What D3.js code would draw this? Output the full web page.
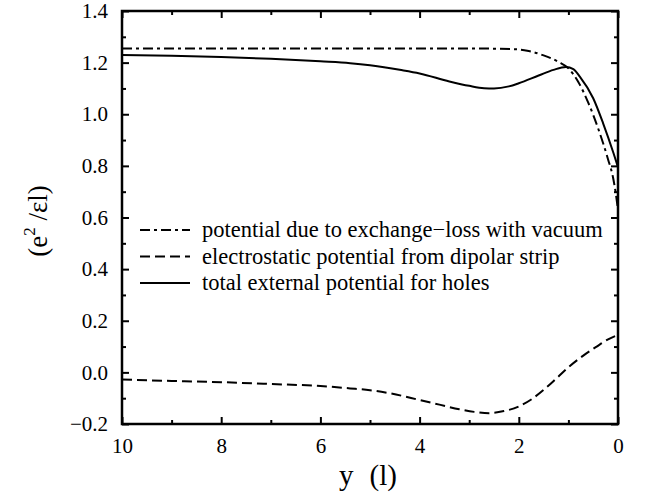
<!DOCTYPE html>
<html>
<head>
<meta charset="utf-8">
<script src="https://cdn.jsdelivr.net/npm/d3@7"></script>
<style>
  body { margin: 0; background: #fff; }
</style>
</head>
<body>
<script>
// distance from edge (l)
var xExch = [10, 8, 6, 4, 3, 2.5, 2, 1.8, 1.5, 1.2, 1.0, 0.8, 0.6, 0.4, 0.2, 0.1, 0.05, 0];
var exchange = [1.255, 1.255, 1.255, 1.255, 1.255, 1.254, 1.251, 1.245, 1.228, 1.203, 1.178, 1.125, 1.045, 0.945, 0.825, 0.755, 0.70, 0.63];

var xDip = [10, 9, 8, 7, 6, 5.4, 5, 4.6, 4, 3.6, 3.2, 2.9, 2.6, 2.3, 2.0, 1.75, 1.5, 1.25, 1.0, 0.7, 0.43, 0.2, 0];
var dipolar = [-0.028, -0.033, -0.038, -0.045, -0.053, -0.062, -0.069, -0.081, -0.107, -0.125, -0.143, -0.153, -0.158, -0.150, -0.132, -0.105, -0.068, -0.025, 0.020, 0.065, 0.100, 0.128, 0.145];

var xTot = [10, 9, 8, 7, 6, 5.4, 5, 4.4, 4, 3.4, 3, 2.7, 2.5, 2.2, 2.0, 1.6, 1.3, 1.05, 0.9, 0.77, 0.5, 0.3, 0.09, 0];
var total = [1.230, 1.227, 1.222, 1.215, 1.205, 1.198, 1.190, 1.172, 1.158, 1.127, 1.110, 1.101, 1.100, 1.108, 1.120, 1.150, 1.172, 1.183, 1.175, 1.146, 1.062, 0.965, 0.849, 0.795];

var legendLabels = ["potential due to exchange\u2212loss with vacuum",
                    "electrostatic potential from dipolar strip",
                    "total external potential for holes"];

var FONT = "'Liberation Serif'";

var W = 647, H = 493;
var margin = { left: 122, right: 29, top: 11, bottom: 69 };
var width = W - margin.left - margin.right;
var height = H - margin.top - margin.bottom;

var x = d3.scaleLinear().domain([10, 0]).range([0, width]);
var y = d3.scaleLinear().domain([-0.2, 1.4]).range([height, 0]);

var svg = d3.select("body").append("svg").attr("width", W).attr("height", H);
var g = svg.append("g").attr("transform", "translate(" + margin.left + "," + margin.top + ")");

// ticks (inward on all four sides)
var xMajor = d3.range(10, -1, -2), xMinor = d3.range(9, 0, -2);
var yMajor = d3.range(0, 9).map(function (i) { return -0.2 + i * 0.2; });
var yMinor = d3.range(0, 8).map(function (i) { return -0.1 + i * 0.2; });

function fmtY(v) { var s = d3.format(".1f")(Math.abs(v) < 1e-9 ? 0 : v); return s.replace("-", "\u2212"); }

g.append("g").attr("transform", "translate(0," + height + ")")
  .call(d3.axisBottom(x).tickValues(xMajor).tickSize(-7).tickPadding(14).tickFormat(d3.format("d")));
g.append("g").attr("transform", "translate(0," + height + ")")
  .call(d3.axisBottom(x).tickValues(xMinor).tickSize(-4).tickFormat(""));
g.append("g").call(d3.axisTop(x).tickValues(xMajor).tickSize(-7).tickFormat(""));
g.append("g").call(d3.axisTop(x).tickValues(xMinor).tickSize(-4).tickFormat(""));

g.append("g").call(d3.axisLeft(y).tickValues(yMajor).tickSize(-7).tickPadding(14).tickFormat(fmtY));
g.append("g").call(d3.axisLeft(y).tickValues(yMinor).tickSize(-4).tickFormat(""));
g.append("g").attr("transform", "translate(" + width + ",0)")
  .call(d3.axisRight(y).tickValues(yMajor).tickSize(-7).tickFormat(""));
g.append("g").attr("transform", "translate(" + width + ",0)")
  .call(d3.axisRight(y).tickValues(yMinor).tickSize(-4).tickFormat(""));

g.selectAll(".domain").remove();
g.selectAll("g").attr("font-family", FONT).attr("font-size", 21);
g.selectAll(".tick line").attr("stroke", "#000").attr("stroke-width", 2);
g.selectAll(".tick text").style("font-family", FONT).style("font-size", "21px").attr("fill", "#000");

g.append("rect").attr("width", width).attr("height", height)
  .attr("fill", "none").attr("stroke", "#000").attr("stroke-width", 2.5);

// curves
var styles = [
  { xs: xExch, ys: exchange, dash: "10,4,3,4" },
  { xs: xDip, ys: dipolar, dash: "10,5" },
  { xs: xTot, ys: total, dash: null }
];

var line = d3.line().x(function (d) { return x(d[0]); }).y(function (d) { return y(d[1]); })
  .curve(d3.curveMonotoneX);

styles.forEach(function (s) {
  var pts = s.xs.map(function (v, i) { return [v, s.ys[i]]; });
  g.append("path").attr("d", line(pts)).attr("fill", "none")
    .attr("stroke", "#000").attr("stroke-width", 2)
    .attr("stroke-dasharray", s.dash);
});

// legend
var leg = g.append("g").attr("transform", "translate(18,219)");
legendLabels.forEach(function (t, i) {
  leg.append("line").attr("x1", 0).attr("x2", 50).attr("y1", i * 26.5).attr("y2", i * 26.5)
    .attr("stroke", "#000").attr("stroke-width", 2).attr("stroke-dasharray", styles[i].dash);
  leg.append("text").attr("x", 62).attr("y", i * 26.5).attr("dy", "0.33em")
    .style("font-family", FONT).style("font-size", "22.5px").text(t);
});

// axis titles
var xt = svg.append("text").attr("x", margin.left + width / 2 - 2).attr("y", 485)
  .attr("text-anchor", "middle").style("font-family", FONT).style("font-size", "29px");
xt.append("tspan").text("y");
xt.append("tspan").attr("dx", 16).text("(l)");

var yt = svg.append("text").attr("transform", "translate(47,221) rotate(-90)")
  .attr("text-anchor", "middle").style("font-family", FONT).style("font-size", "27px");
yt.append("tspan").text("(e");
yt.append("tspan").attr("dy", -12).style("font-size", "17px").text("2");
yt.append("tspan").attr("dy", 12).text(" /\u03b5l)");
</script>
</body>
</html>
